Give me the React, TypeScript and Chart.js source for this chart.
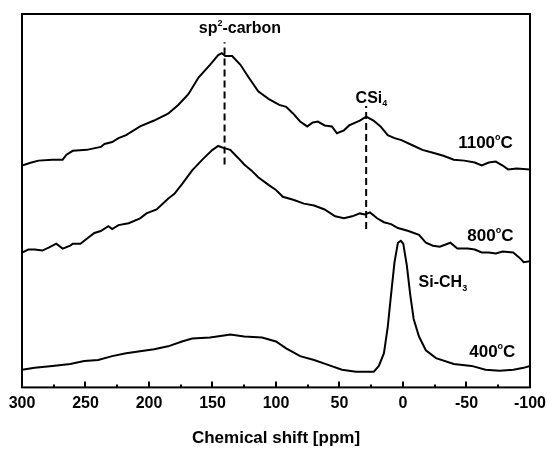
import React, { useEffect, useRef } from "react";
import { Chart, registerables } from "chart.js";

Chart.register(...registerables);

// Chemical shift (ppm) and intensity (arbitrary units) for each spectrum
const ppm1100 = [300, 292.6, 287, 276, 268, 265, 260, 249, 238, 235, 229, 224, 218, 207, 196, 185, 177, 169, 161, 152, 145.5, 142.7, 140, 134.5, 128, 122, 114, 105.6, 97.4, 92, 86.4, 81, 75.4, 71, 67, 61.7, 56, 52, 46.5, 42.4, 34, 29, 23.2, 17.7, 12, 6.7, 1.2, -7, -15.3, -23.6, -31.8, -40, -48.3, -56.5, -62, -67.5, -73, -78.5, -82.7, -89.5, -100];
const int1100 = [227, 230, 232, 233, 233, 238, 242, 243, 246, 249, 251, 255, 258, 267, 273, 280, 289, 300, 317, 330, 340, 342, 339, 339, 330, 318, 303, 295, 289, 287, 280, 272, 267, 271, 272, 268, 267, 260, 263, 268, 273, 277, 273, 267, 258, 255, 253, 248, 243, 240, 237, 233, 232, 230, 227, 230, 231, 227, 223, 224, 223];

const ppm800 = [300, 295, 290, 284, 279, 273, 268, 262, 260, 254, 249, 243, 238, 232, 229, 224, 216, 207, 202, 194, 185, 180, 174, 166, 158, 150, 145.5, 141.4, 136, 130, 125, 119.4, 114, 105.6, 100, 94.6, 86.4, 78, 70, 61.7, 53.4, 46.5, 40, 34, 30, 26, 20.4, 15, 9.4, 4, -4.3, -12.6, -18, -23.6, -29, -37.3, -42.8, -51, -56.5, -62, -67.5, -73, -78.5, -86.8, -92.3, -95, -100];
const int800 = [138, 141, 141, 140, 143, 147, 142, 145, 147, 147, 152, 158, 160, 165, 162, 166, 168, 173, 178, 182, 193, 198, 208, 222, 233, 243, 247, 245, 243, 235, 228, 222, 215, 207, 202, 195, 192, 188, 186, 182, 175, 173, 175, 178, 177, 179, 173, 169, 167, 163, 160, 156, 148, 145, 144, 148, 142, 142, 141, 138, 138, 137, 139, 138, 132, 128, 129];

const ppm400 = [300, 290, 276, 262, 251, 240, 229, 218, 207, 196, 185, 174, 166, 152, 141, 136, 125, 111, 100, 92, 81, 70, 59, 48, 37, 23, 19, 15, 12, 9.4, 6.7, 4, 1.7, -0.2, -3, -5.7, -8.4, -12.6, -18, -26, -40, -54, -65, -76, -87, -95, -100];
const int400 = [18, 20, 22, 24, 27, 28, 32, 35, 37, 39, 42, 47, 50, 51, 53, 54, 52, 51, 47, 40, 32, 28, 23, 18, 16, 16, 22, 35, 62, 95, 128, 148, 150, 147, 125, 95, 70, 52, 38, 30, 24, 22, 18, 17, 18, 20, 22];

// Peak marker lines (ppm position, intensity range)
const sp2Marker = { ppm: 140.5, from: 228, to: 353 };
const csiMarker = { ppm: 29, from: 162, to: 288 };

// Axis
const xMin = -100;
const xMax = 300;
const yMin = 0;
const yMax = 382;
const majorTicks = [300, 250, 200, 150, 100, 50, 0, -50, -100];
const minorTicks = [275, 225, 175, 125, 75, 25, -25, -75];
const xTitle = "Chemical shift [ppm]";

// Annotation texts: [text parts], anchor in data coordinates
type Part = { t: string; size: number; dy: number };
type Note = { parts: Part[]; ppm: number; val: number; align: "left" | "right" | "center" };
const notes: Note[] = [
  { parts: [{ t: "sp", size: 16, dy: 0 }, { t: "2", size: 9, dy: -7 }, { t: "-carbon", size: 16, dy: 0 }], ppm: 128.4, val: 363, align: "center" },
  { parts: [{ t: "CSi", size: 16, dy: 0 }, { t: "4", size: 9, dy: 3 }], ppm: 37.3, val: 290.5, align: "left" },
  { parts: [{ t: "1100", size: 17, dy: 0 }, { t: "o", size: 9, dy: -8 }, { t: "C", size: 17, dy: 0 }], ppm: -86.5, val: 244.6, align: "right" },
  { parts: [{ t: "800", size: 17, dy: 0 }, { t: "o", size: 9, dy: -8 }, { t: "C", size: 17, dy: 0 }], ppm: -87, val: 149.8, align: "right" },
  { parts: [{ t: "Si-CH", size: 16, dy: 0 }, { t: "3", size: 9, dy: 4 }], ppm: -12.3, val: 102.8, align: "left" },
  { parts: [{ t: "400", size: 17, dy: 0 }, { t: "o", size: 9, dy: -8 }, { t: "C", size: 17, dy: 0 }], ppm: -88.5, val: 31.2, align: "right" },
];

const FONT = "'Liberation Sans', Arial, Helvetica, sans-serif";

const framePlugin = {
  id: "frameAndNotes",
  afterDatasetsDraw(chart: any) {
    const { ctx, chartArea: a, scales } = chart;
    const x = scales.x;
    const y = scales.y;
    ctx.save();
    ctx.strokeStyle = "#000";
    ctx.lineWidth = 2;
    ctx.strokeRect(a.left, a.top, a.right - a.left, a.bottom - a.top);
    ctx.beginPath();
    for (const v of majorTicks) {
      const px = Math.round(x.getPixelForValue(v));
      ctx.moveTo(px, a.bottom);
      ctx.lineTo(px, a.bottom - 6);
    }
    for (const v of minorTicks) {
      const px = Math.round(x.getPixelForValue(v));
      ctx.moveTo(px, a.bottom);
      ctx.lineTo(px, a.bottom - 3);
    }
    ctx.stroke();

    ctx.fillStyle = "#000";
    ctx.textBaseline = "alphabetic";
    ctx.textAlign = "left";
    for (const n of notes) {
      let total = 0;
      const widths = n.parts.map((p) => {
        ctx.font = `bold ${p.size}px ${FONT}`;
        const w = ctx.measureText(p.t).width;
        total += w;
        return w;
      });
      const ax = x.getPixelForValue(n.ppm);
      const ay = y.getPixelForValue(n.val);
      let cx = n.align === "left" ? ax : n.align === "right" ? ax - total : ax - total / 2;
      n.parts.forEach((p, i) => {
        ctx.font = `bold ${p.size}px ${FONT}`;
        ctx.fillText(p.t, cx, ay + p.dy);
        cx += widths[i];
      });
    }
    ctx.restore();
  },
};

function toPoints(xs: number[], ys: number[]) {
  return xs.map((v, i) => ({ x: v, y: ys[i] }));
}

export default function App() {
  const ref = useRef<HTMLCanvasElement | null>(null);
  useEffect(() => {
    if (!ref.current) return;
    const lineStyle = {
      borderColor: "#000",
      borderWidth: 2,
      pointRadius: 0,
      tension: 0,
      fill: false,
    };
    const dashStyle = {
      borderColor: "#000",
      borderWidth: 2,
      pointRadius: 0,
      borderDash: [7, 4],
      fill: false,
    };
    const chart = new Chart(ref.current, {
      type: "line",
      data: {
        datasets: [
          { label: "1100°C", data: toPoints(ppm1100, int1100), ...lineStyle },
          { label: "800°C", data: toPoints(ppm800, int800), ...lineStyle },
          { label: "400°C", data: toPoints(ppm400, int400), ...lineStyle },
          { label: "sp2", data: [{ x: sp2Marker.ppm, y: sp2Marker.from }, { x: sp2Marker.ppm, y: sp2Marker.to }], ...dashStyle },
          { label: "CSi4", data: [{ x: csiMarker.ppm, y: csiMarker.from }, { x: csiMarker.ppm, y: csiMarker.to }], ...dashStyle },
        ],
      },
      options: {
        animation: false,
        responsive: false,
        maintainAspectRatio: false,
        layout: { padding: { left: 22, right: 19, top: 14, bottom: 0 } },
        plugins: { legend: { display: false }, tooltip: { enabled: false } },
        scales: {
          x: {
            type: "linear",
            reverse: true,
            min: xMin,
            max: xMax,
            grid: { display: false, drawTicks: false },
            border: { display: false },
            ticks: {
              stepSize: 50,
              padding: 7,
              color: "#000",
              font: { family: FONT, size: 16, weight: "bold" },
              maxRotation: 0,
              autoSkip: false,
            },
            title: {
              display: true,
              text: xTitle,
              color: "#000",
              font: { family: FONT, size: 17, weight: "bold" },
              padding: { top: 8, bottom: 0 },
            },
          },
          y: { display: false, min: yMin, max: yMax },
        },
      },
      plugins: [framePlugin],
    } as any);
    return () => chart.destroy();
  }, []);
  return (
    <div style={{ position: "absolute", left: 0, top: 0, width: 553, height: 449, background: "#fff" }}>
      <canvas ref={ref} width={553} height={449} style={{ display: "block" }} />
    </div>
  );
}
